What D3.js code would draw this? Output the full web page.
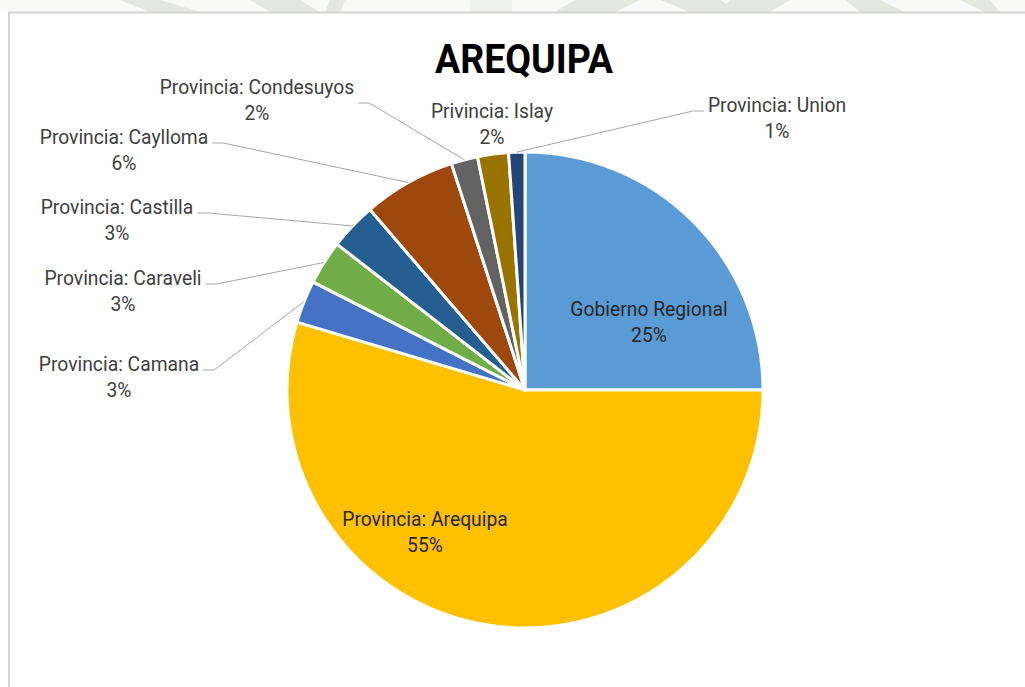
<!DOCTYPE html>
<html>
<head>
<meta charset="utf-8">
<script src="https://cdn.jsdelivr.net/npm/d3@7/dist/d3.min.js"></script>
<style>
  html, body { margin: 0; padding: 0; background: #ffffff; }
  svg { display: block; }
</style>
</head>
<body>
<svg id="chart" width="1025" height="687"></svg>
<script>
// Budget share by unit, Arequipa region
const categories = [
  "Gobierno Regional",
  "Provincia: Arequipa",
  "Provincia: Camana",
  "Provincia: Caraveli",
  "Provincia: Castilla",
  "Provincia: Caylloma",
  "Provincia: Condesuyos",
  "Privincia: Islay",
  "Provincia: Union"
];
const values = [25.0, 54.6, 2.9, 3.0, 3.2, 6.3, 1.8, 2.1, 1.1];
const colors = ["#5B9BD5", "#FFC000", "#4472C4", "#70AD47", "#255E91",
                "#9E480E", "#636363", "#997300", "#264478"];

// Label placement: centre x, first baseline y, and which side the leader leaves from
const labelLayout = [
  { x: 649, y: 316, inside: true },
  { x: 425, y: 526, inside: true },
  { x: 119, y: 371, side: "right" },
  { x: 123, y: 285, side: "right" },
  { x: 117, y: 214, side: "right" },
  { x: 124, y: 144, side: "right" },
  { x: 257, y: 94,  side: "right", lineDy: 10 },
  { x: 492, y: 118, noLine: true },
  { x: 777, y: 112, side: "left" }
];

const svg = d3.select("#chart");
const W = 1025, H = 687;

// faint watermark strip behind the chart frame
const wm = svg.append("g").attr("opacity", 0.45);
const wmShapes = [
  [[120,0],[160,0],[200,12],[150,12]],
  [[250,0],[300,0],[320,12],[270,12]],
  [[330,0],[345,0],[340,12],[325,12]],
  [[470,0],[512,0],[512,12],[470,12]],
  [[575,0],[640,0],[615,12],[555,12]],
  [[660,0],[720,0],[740,12],[690,12]],
  [[730,0],[790,0],[770,12],[720,12]],
  [[845,0],[880,0],[905,12],[860,12]],
  [[960,0],[990,0],[1000,12],[985,12]]
];
wm.selectAll("path").data(wmShapes).join("path")
  .attr("d", d => d3.line()(d) + "Z")
  .attr("fill", (d, i) => i === 3 ? "#dfe3dc" : "#b9c4b2");

// chart frame
svg.append("rect")
  .attr("x", 0).attr("y", 0).attr("width", W).attr("height", 12)
  .attr("fill", "#eef1ec").attr("opacity", 0.35);
svg.append("rect")
  .attr("x", 9).attr("y", 12.5).attr("width", W + 20).attr("height", H)
  .attr("fill", "#ffffff").attr("stroke", "#d4d4d4").attr("stroke-width", 2);

// title
svg.append("text")
  .attr("x", 524).attr("y", 73)
  .attr("text-anchor", "middle")
  .attr("font-family", "Roboto, 'Liberation Sans', sans-serif")
  .attr("font-weight", 700)
  .attr("font-size", 40)
  .attr("textLength", 178)
  .attr("lengthAdjust", "spacingAndGlyphs")
  .attr("fill", "#000000")
  .text("AREQUIPA");

const cx = 525, cy = 390, R = 238;
const g = svg.append("g").attr("transform", `translate(${cx},${cy})`);

const pie = d3.pie().sort(null).value(d => d.value);
const data = categories.map((c, i) => ({ name: c, value: values[i], color: colors[i], layout: labelLayout[i] }));
const arcs = pie(data);
const arc = d3.arc().innerRadius(0).outerRadius(R);

g.selectAll("path.slice").data(arcs).join("path")
  .attr("class", "slice")
  .attr("d", arc)
  .attr("fill", d => d.data.color)
  .attr("stroke", "#ffffff")
  .attr("stroke-width", 3)
  .attr("stroke-linejoin", "round");

const total = d3.sum(values);
const fontFam = "Roboto, 'Liberation Sans', sans-serif";
const labels = svg.append("g").attr("font-family", fontFam).attr("font-size", 19.3);

arcs.forEach(a => {
  const L = a.data.layout;
  const pct = Math.round(a.data.value / total * 100) + "%";
  const t = labels.append("text")
    .attr("text-anchor", "middle")
    .attr("fill", L.inside ? "#262626" : "#404040");
  t.append("tspan").attr("x", L.x).attr("y", L.y).text(a.data.name);
  t.append("tspan").attr("x", L.x).attr("y", L.y + 26).text(pct);

  if (L.inside || L.noLine) return;
  const w = t.node().firstChild.getComputedTextLength();
  const mid = (a.startAngle + a.endAngle) / 2;
  const px = cx + R * Math.sin(mid), py = cy - R * Math.cos(mid);
  const ly = L.y + (L.lineDy || 0) - 1;
  let pts;
  if (L.side === "right") {
    const x0 = L.x + w / 2 + 4;
    pts = [[x0, ly], [x0 + 11, ly], [px, py]];
  } else {
    const x0 = L.x - w / 2 - 4;
    pts = [[x0, ly], [x0 - 11, ly], [px, py]];
  }
  svg.append("path")
    .attr("d", d3.line()(pts))
    .attr("fill", "none")
    .attr("stroke", "#a6a6a6")
    .attr("stroke-width", 1);
});
</script>
</body>
</html>
